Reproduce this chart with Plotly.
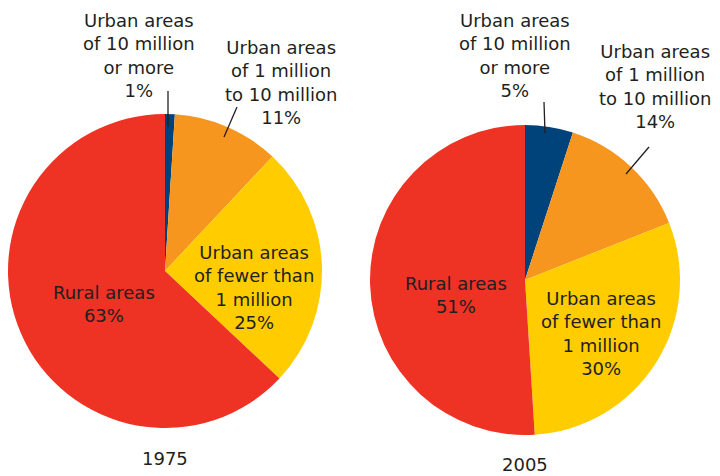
import plotly.graph_objects as go

categories = ["Urban areas of 10 million or more",
              "Urban areas of 1 million to 10 million",
              "Urban areas of fewer than 1 million",
              "Rural areas"]
values_1975 = [1, 11, 25, 63]
values_2005 = [5, 14, 30, 51]
years = ["1975", "2005"]
colors = ["#00427a", "#f7961f", "#ffcc00", "#ee3224"]

W, H = 720, 476
FONT = "DejaVu Sans"
TXT = "#231f20"

def px(x, y):
    return x / W, 1 - y / H

fig = go.Figure()
fig.add_trace(go.Pie(labels=categories, values=values_1975, sort=False,
                     direction="clockwise", rotation=0, textinfo="none",
                     hoverinfo="label+percent",
                     marker=dict(colors=colors, line=dict(width=0)),
                     domain=dict(x=[8 / W, 322 / W], y=[1 - 428 / H, 1 - 114 / H]),
                     showlegend=False))
fig.add_trace(go.Pie(labels=categories, values=values_2005, sort=False,
                     direction="clockwise", rotation=0, textinfo="none",
                     hoverinfo="label+percent",
                     marker=dict(colors=colors, line=dict(width=0)),
                     domain=dict(x=[370 / W, 680 / W], y=[1 - 435 / H, 1 - 125 / H]),
                     showlegend=False))

def label(text_lines, x, y):
    xx, yy = px(x, y)
    fig.add_annotation(text="<br>".join(text_lines), x=xx, y=yy, xref="paper", yref="paper",
                       showarrow=False, xanchor="center", yanchor="middle",
                       font=dict(family=FONT, size=18, color=TXT), align="center")

def leader(x0, y0, x1, y1):
    a, b = px(x0, y0)
    c, d = px(x1, y1)
    fig.add_shape(type="line", x0=a, y0=b, x1=c, y1=d, xref="paper", yref="paper",
                  line=dict(color=TXT, width=1.3))

def pct(v):
    return f"{v}%"

# 1975
label(["Urban areas", "of 10 million", "or more", pct(values_1975[0])], 139, 55)
label(["Urban areas", "of 1 million", "to 10 million", pct(values_1975[1])], 281, 82)
label(["Urban areas", "of fewer than", "1 million", pct(values_1975[2])], 254, 287)
label(["Rural areas", pct(values_1975[3])], 104, 304)
leader(168, 91, 168, 127)
leader(237, 107, 224, 137)
label([years[0]], 165, 458)

# 2005
label(["Urban areas", "of 10 million", "or more", pct(values_2005[0])], 515, 55)
label(["Urban areas", "of 1 million", "to 10 million", pct(values_2005[1])], 655, 86)
label(["Urban areas", "of fewer than", "1 million", pct(values_2005[2])], 601, 333)
label(["Rural areas", pct(values_2005[3])], 456, 295)
leader(544, 102, 545, 133)
leader(649, 147, 626, 174)
label([years[1]], 525, 464)

fig.update_layout(width=W, height=H, margin=dict(l=0, r=0, t=0, b=0),
                  paper_bgcolor="white", plot_bgcolor="white")
fig.write_html("out.html", config={"displayModeBar": False},
               post_script="document.body.style.margin='0';document.body.style.overflow='hidden';")
